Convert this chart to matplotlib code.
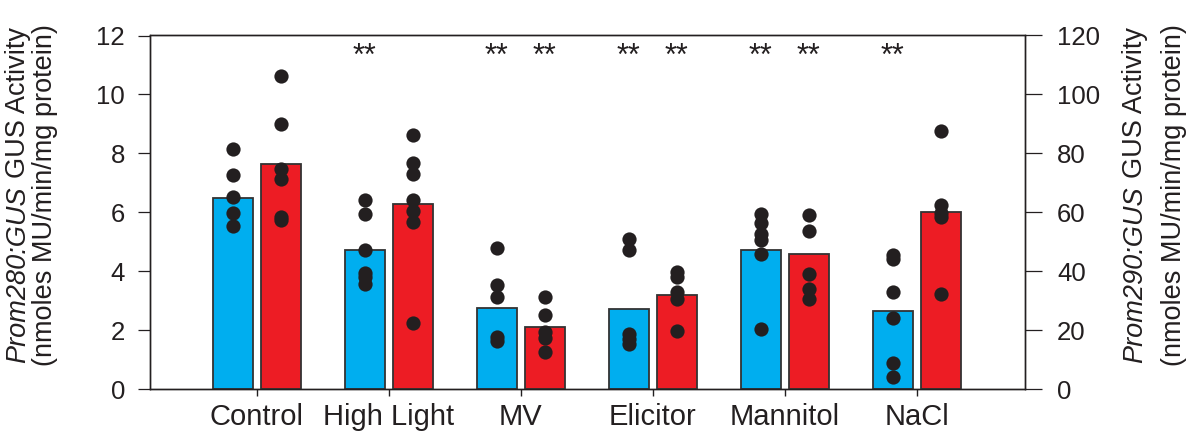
import matplotlib
matplotlib.use("Agg")
import matplotlib.pyplot as plt
import numpy as np

# ---------------- data ----------------
categories = ["Control", "High Light", "MV", "Elicitor", "Mannitol", "NaCl"]

# Prom280:GUS (left axis)
blue_means = [6.50, 4.73, 2.75, 2.70, 4.73, 2.64]
blue_points = [
    [8.16, 7.28, 6.52, 5.99, 5.54],
    [6.40, 5.95, 4.73, 3.95, 3.81, 3.55],
    [4.80, 3.53, 3.11, 1.77, 1.64],
    [5.10, 4.71, 1.88, 1.70, 1.52],
    [5.93, 5.62, 5.25, 5.05, 4.57, 2.02],
    [4.54, 4.40, 3.30, 2.42, 0.87, 0.42],
]

# Prom290:GUS (right axis)
red_means = [76.3, 62.7, 21.0, 31.8, 45.8, 60.0]
red_points = [
    [106.2, 90.0, 74.6, 71.4, 58.5, 57.5],
    [86.1, 76.7, 72.9, 64.0, 60.5, 56.7, 22.5],
    [31.4, 25.0, 19.4, 17.2, 12.7],
    [39.6, 37.9, 33.0, 30.7, 19.8],
    [59.0, 53.7, 39.0, 33.8, 30.7],
    [87.6, 62.3, 59.8, 58.4, 32.1],
]

blue_sig = [False, True, True, True, True, True]
red_sig = [False, False, True, True, True, False]

left_ticks = [0, 2, 4, 6, 8, 10, 12]
right_ticks = [0, 20, 40, 60, 80, 100, 120]

# ---------------- style ----------------
plt.rcParams['font.family'] = ['Liberation Sans', 'DejaVu Sans']
BLUE = "#00AEEF"
RED = "#ED1C24"
DARK = "#231F20"
EDGE = "#333333"

fig = plt.figure(figsize=(11.96, 4.36), dpi=100)
ax = fig.add_axes([150 / 1196, 1 - 389 / 436, (1025 - 150) / 1196, (389 - 35.5) / 436])
ax2 = ax.twinx()

x = np.arange(len(categories))
off = 0.182
w = 0.303

ax.bar(x - off, blue_means, width=w, color=BLUE, edgecolor=EDGE, linewidth=1.3, zorder=2)
ax2.bar(x + off, red_means, width=w, color=RED, edgecolor=EDGE, linewidth=1.3, zorder=2)

for i, pts in enumerate(blue_points):
    ax.scatter(np.full(len(pts), x[i] - off), pts, s=105, color=DARK, zorder=3, linewidths=0)
for i, pts in enumerate(red_points):
    ax2.scatter(np.full(len(pts), x[i] + off), pts, s=105, color=DARK, zorder=3, linewidths=0)

for i in range(len(categories)):
    if blue_sig[i]:
        ax.text(x[i] - off, 11.28, "**", ha="center", va="center", fontsize=22, color=DARK)
    if red_sig[i]:
        ax.text(x[i] + off, 11.28, "**", ha="center", va="center", fontsize=22, color=DARK)

ax.set_xlim(-0.81, 5.82)
ax.set_ylim(0, 12)
ax2.set_ylim(0, 120)
ax.set_yticks(left_ticks)
ax2.set_yticks(right_ticks)
ax.set_xticks(x)
ax.set_xticklabels(categories)

for a in (ax, ax2):
    for s in a.spines.values():
        s.set_color(DARK)
        s.set_linewidth(1.0)

ax.tick_params(axis='y', direction='out', length=9, width=0.9, pad=9, labelsize=18.5, colors=DARK)
ax2.tick_params(axis='y', direction='out', length=12, width=0.9, pad=11, labelsize=18.5, colors=DARK)
ax.tick_params(axis='x', direction='out', length=5, width=1.0, pad=5, labelsize=21, colors=DARK)

# ---------------- y labels ----------------
FS = 19.5
renderer = fig.canvas.get_renderer()
H = 436.0


def rot_label(xpix, yc_pix, parts):
    texts = []
    lengths = []
    for s, style in parts:
        t = fig.text(0, 0, s, rotation=90, rotation_mode='anchor', ha='left', va='baseline',
                     fontsize=FS, style=style, color=DARK)
        texts.append(t)
        lengths.append(t.get_window_extent(renderer).height)
    gap = 0.28 * FS * 100 / 72
    total = sum(lengths) + gap * (len(parts) - 1)
    y = yc_pix - total / 2
    for t, L in zip(texts, lengths):
        t.set_position((xpix / 1196, y / H))
        y += L + gap


def line2(xpix, yc_pix, s):
    fig.text(xpix / 1196, yc_pix / H, s, rotation=90, rotation_mode='anchor', ha='center',
             va='baseline', fontsize=FS, color=DARK)


yc = H - 195
rot_label(25, yc, [("Prom280:GUS", 'italic'), ("GUS Activity", 'normal')])
line2(52, yc, "(nmoles MU/min/mg protein)")
rot_label(1142, yc, [("Prom290:GUS", 'italic'), ("GUS Activity", 'normal')])
line2(1181, yc, "(nmoles MU/min/mg protein)")

fig.savefig("out.png", dpi=100)
